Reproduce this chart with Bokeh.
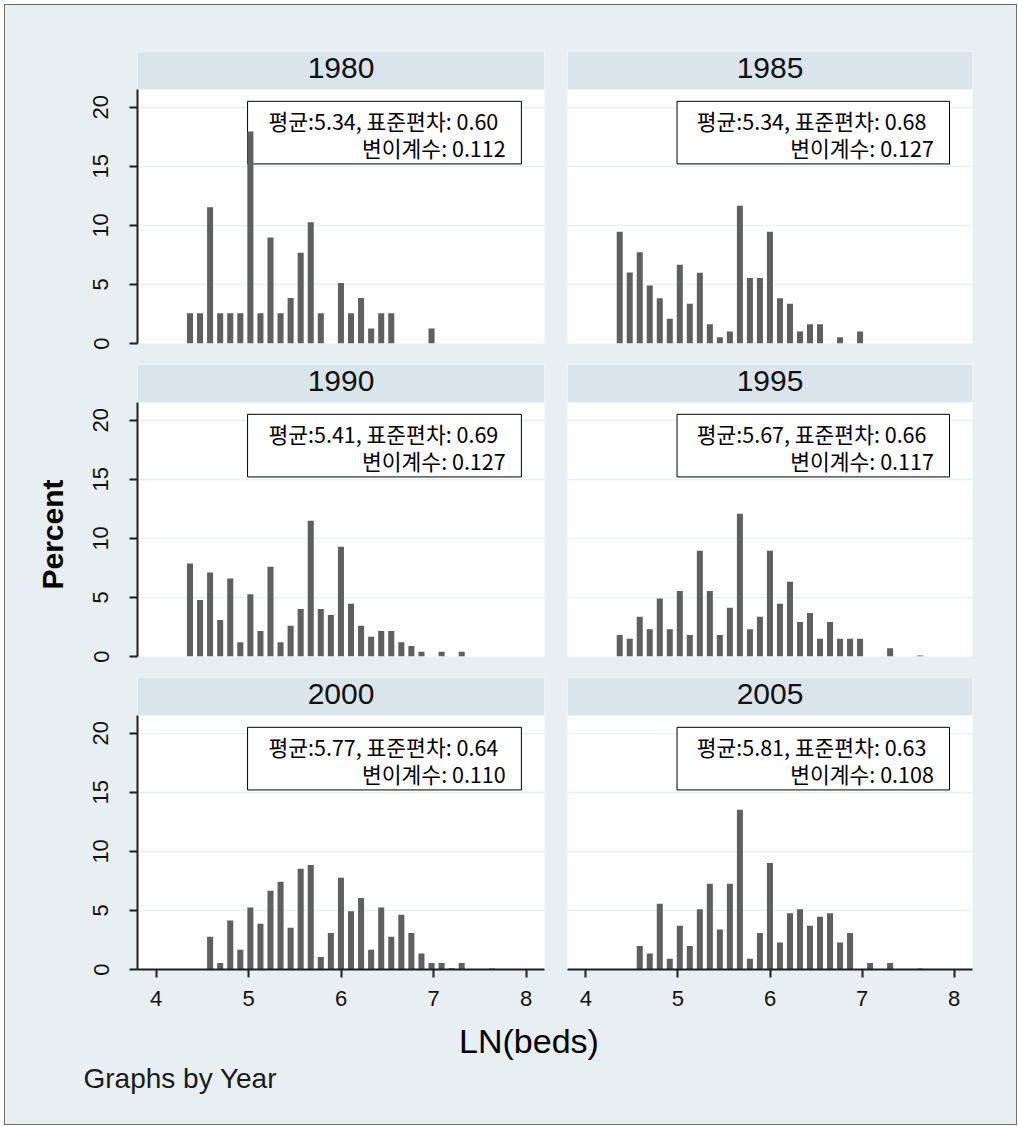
import math
from bokeh.plotting import figure
from bokeh.layouts import column, row
from bokeh.models import Range1d, FixedTicker, BoxAnnotation, Label, ColumnDataSource
from bokeh.embed import file_html
from bokeh.resources import INLINE

# ---------------- data ----------------
years = [1980, 1985, 1990, 1995, 2000, 2005]
means = [5.34, 5.34, 5.41, 5.67, 5.77, 5.81]
sds = [0.60, 0.68, 0.69, 0.66, 0.64, 0.63]
cvs = [0.112, 0.127, 0.127, 0.117, 0.110, 0.108]

bin_start = 4.313
bin_width = 0.1088

pct_1980 = [2.56, 2.56, 11.54, 2.56, 2.56, 2.56, 17.95, 2.56, 8.97, 2.56, 3.85, 7.69, 10.26, 2.56, 0,
            5.13, 2.56, 3.85, 1.28, 2.56, 2.56, 0, 0, 0, 1.28, 0, 0, 0, 0, 0, 0]
pct_1985 = [9.45, 6.02, 7.72, 4.92, 3.84, 2.09, 6.67, 3.36, 5.99, 1.63, 0.53, 1.01, 11.65, 5.54, 5.54,
            9.45, 3.84, 3.36, 1.01, 1.63, 1.63, 0, 0.53, 0, 1.01, 0, 0, 0, 0, 0, 0]
pct_1990 = [7.88, 4.78, 7.12, 3.09, 6.61, 1.20, 5.26, 2.16, 7.60, 1.20, 2.61, 4.02, 11.49, 4.02, 3.51,
            9.29, 4.47, 2.61, 1.68, 2.16, 2.16, 1.20, 0.89, 0.40, 0, 0.40, 0, 0.40, 0, 0, 0]
pct_1995 = [1.82, 1.51, 3.37, 2.30, 4.92, 2.30, 5.54, 1.82, 8.95, 5.54, 1.82, 4.13, 12.08, 2.30, 3.37,
            8.95, 4.47, 6.33, 2.92, 3.68, 1.51, 2.92, 1.51, 1.51, 1.51, 0, 0, 0.69, 0, 0, 0.08]
pct_2000 = [0, 0, 2.77, 0.56, 4.15, 1.67, 5.25, 3.87, 6.67, 7.43, 3.53, 8.53, 8.84, 1.05, 3.08,
            7.77, 4.94, 6.05, 1.67, 5.25, 2.77, 4.63, 3.08, 1.36, 0.56, 0.56, 0.10, 0.56, 0, 0, 0.08]
pct_2005 = [0, 0, 1.98, 1.36, 5.56, 0.90, 3.70, 1.98, 5.11, 7.26, 3.39, 7.26, 13.53, 0.90, 3.08,
            9.01, 2.29, 4.77, 5.11, 3.70, 4.46, 4.77, 2.29, 3.08, 0, 0.56, 0, 0.56, 0, 0, 0.08]
all_pct = [pct_1980, pct_1985, pct_1990, pct_1995, pct_2000, pct_2005]

x_ticks = [4, 5, 6, 7, 8]
y_ticks = [0, 5, 10, 15, 20]
x_title = "LN(beds)"
y_title = "Percent"
note = "Graphs by Year"

# ---------------- style ----------------
BG = "#E8EFF2"
STRIP = "#D9E5EB"
BAR = "#5F5F5F"
GRID = "#E9F1F4"
AXC = "#1E1E1E"
TXT = "#111111"
SANS = "Liberation Sans"
KR = "Noto Sans CJK KR"

YPLOT = 21.5
YTOP = YPLOT * 292.0 / 254.0


def make_panel(k, W, H, bl, br, bt, bb, show_y, show_x):
    p = figure(width=W, height=H, x_range=Range1d(3.8, 8.2), y_range=Range1d(0, YTOP),
               output_backend="svg", toolbar_location=None,
               x_axis_location="below" if show_x else None,
               y_axis_location="left" if show_y else None,
               min_border_left=bl, min_border_right=br, min_border_top=bt, min_border_bottom=bb,
               background_fill_color="white", border_fill_color=BG, outline_line_color=None)
    p.xgrid.visible = False
    p.ygrid.ticker = FixedTicker(ticks=y_ticks)
    p.ygrid.grid_line_color = GRID
    p.ygrid.grid_line_width = 1.5

    if show_y:
        ax = p.yaxis[0]
        ax.ticker = FixedTicker(ticks=y_ticks)
        ax.bounds = (0, YPLOT)
        ax.axis_line_width = 2
        ax.axis_line_color = AXC
        ax.major_tick_line_width = 2
        ax.major_tick_line_color = AXC
        ax.major_tick_out = 8
        ax.major_tick_in = 0
        ax.minor_tick_line_color = None
        ax.major_label_orientation = "vertical"
        ax.major_label_text_font = SANS
        ax.major_label_text_font_size = "22px"
        ax.major_label_text_color = TXT
        ax.major_label_standoff = 21
    if show_x:
        ax = p.xaxis[0]
        ax.ticker = FixedTicker(ticks=x_ticks)
        ax.axis_line_width = 2
        ax.axis_line_color = AXC
        ax.major_tick_line_width = 2
        ax.major_tick_line_color = AXC
        ax.major_tick_out = 8
        ax.major_tick_in = 0
        ax.minor_tick_line_color = None
        ax.major_label_text_font = SANS
        ax.major_label_text_font_size = "22px"
        ax.major_label_text_color = TXT
        ax.major_label_standoff = 13

    # header strip
    p.add_layout(BoxAnnotation(bottom=YPLOT, fill_color=STRIP, fill_alpha=1.0, line_color=None,
                               level="underlay"))
    p.add_layout(Label(x=6.0, y=(YPLOT + YTOP) / 2 + 0.25, text=str(years[k]), text_align="center",
                       text_baseline="middle", text_font=SANS, text_font_size="30px",
                       text_color=TXT))

    # stats box
    p.add_layout(BoxAnnotation(left=4.99, right=7.95, bottom=15.2, top=20.5, fill_color="white",
                               fill_alpha=1.0, line_color="black", line_alpha=1.0, line_width=1,
                               level="underlay"))
    p.add_layout(Label(x=7.70, y=18.85, text="평균:%.2f, 표준편차: %.2f" % (means[k], sds[k]),
                       text_align="right", text_baseline="middle", text_font=KR,
                       text_font_size="21.5px", text_color="black"))
    p.add_layout(Label(x=7.78, y=16.6, text="변이계수: %.3f" % cvs[k],
                       text_align="right", text_baseline="middle", text_font=KR,
                       text_font_size="21.5px", text_color="black"))

    centers = [bin_start + (i + 0.5) * bin_width for i in range(len(all_pct[k]))]
    src = ColumnDataSource(dict(x=centers, top=all_pct[k]))
    p.vbar(x="x", top="top", bottom=0, width=bin_width * 0.6, source=src,
           fill_color=BAR, line_color=None)
    return p


def blank(W, H):
    b = figure(width=W, height=H, x_range=Range1d(0, W), y_range=Range1d(0, H),
               output_backend="svg", toolbar_location=None, x_axis_location=None,
               y_axis_location=None, min_border=0, background_fill_color=BG,
               border_fill_color=BG, outline_line_color=None)
    b.xgrid.visible = False
    b.ygrid.visible = False
    return b


W0 = 75                 # strip holding the shared y title
LW, RW = 550 - W0, 461
BL = 132 - W0
f1 = make_panel(0, LW, 350, BL, 11, 46, 12, True, False)
f2 = make_panel(1, RW, 350, 12, 44, 46, 12, False, False)
f3 = make_panel(2, LW, 313, BL, 11, 9, 12, True, False)
f4 = make_panel(3, RW, 313, 12, 44, 9, 12, False, False)
f5 = make_panel(4, LW, 347, BL, 11, 9, 46, True, True)
f6 = make_panel(5, RW, 347, 12, 44, 9, 46, False, True)

GH = 350 + 313 + 347
fl = blank(W0, GH)
fl.add_layout(Label(x=47, y=GH - 529, text=y_title, angle=math.pi / 2, text_align="center",
                    text_baseline="middle", text_font=SANS, text_font_size="30px",
                    text_font_style="bold", text_color="#000000"))

FBH = 109
fb = blank(W0 + LW + RW, FBH)
fb.add_layout(Label(x=523.5, y=FBH - 25, text=x_title, text_align="center", text_baseline="middle",
                    text_font=SANS, text_font_size="34px", text_color="#000000"))
fb.add_layout(Label(x=78, y=FBH - 63, text=note, text_align="left", text_baseline="middle",
                    text_font=SANS, text_font_size="28px", text_color="#1a1a1a"))

grid = column(row(f1, f2), row(f3, f4), row(f5, f6))
layout = column(row(fl, grid), fb,
                styles={"border": "1px solid #6e6e6e", "margin-left": "4px", "margin-top": "4px",
                        "background-color": BG})

open("out.html", "w").write(file_html(layout, INLINE))
